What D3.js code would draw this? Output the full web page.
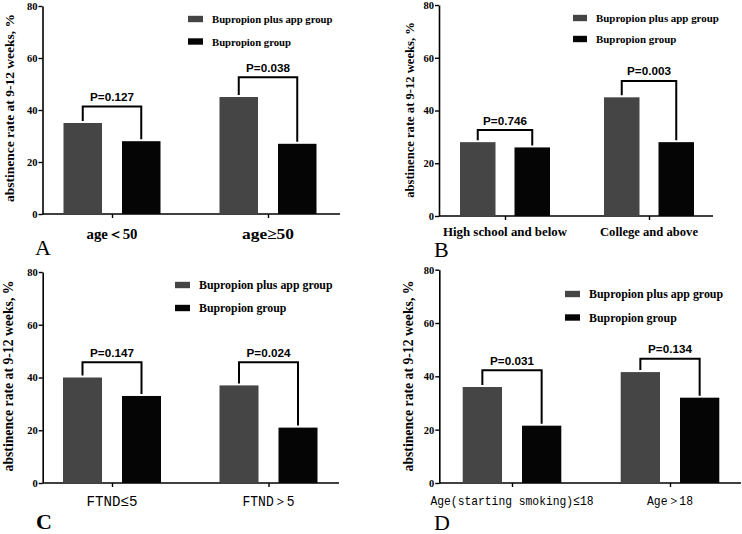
<!DOCTYPE html>
<html>
<head>
<meta charset="utf-8">
<script src="https://cdn.jsdelivr.net/npm/d3@7"></script>
<style>
  html, body { margin: 0; padding: 0; background: #fff; }
  svg { display: block; }
</style>
</head>
<body>
<svg id="chart" width="742" height="534"></svg>
<script>
// ---------------- data ----------------
const groups = ["Bupropion plus app group", "Bupropion group"];
const yTicks = [0, 20, 40, 60, 80];
const yTitle = "abstinence rate at 9-12 weeks, %";

const catsA = ["age＜50", "age≥50"];
const appA = [35, 45];
const bupA = [28, 27];
const pA = ["P=0.127", "P=0.038"];
const brA = [41.3, 52.6];

const catsB = ["High school and below", "College and above"];
const appB = [28, 45];
const bupB = [26, 28];
const pB = ["P=0.746", "P=0.003"];
const brB = [32.6, 51.2];

const catsC = ["FTND≤5", "FTND＞5"];
const appC = [40, 37];
const bupC = [33, 21];
const pC = ["P=0.147", "P=0.024"];
const brC = [45.8, 45.8];

const catsD = ["Age(starting smoking)≤18", "Age＞18"];
const appD = [36, 41.6];
const bupD = [21.5, 32];
const pD = ["P=0.031", "P=0.134"];
const brD = [42.3, 46.6];

const letters = ["A", "B", "C", "D"];

// ---------------- layout ----------------
const colors = ["#454545", "#050505"];
const serif = "'Liberation Serif', 'Times New Roman', serif";
const sans = "'Liberation Sans', Arial, sans-serif";
const mono = "'Liberation Mono', 'Courier New', monospace";

const layouts = [
  { x0: 42.5, x1: 340, y0: 214, y80: 6, c: [112, 268], bw: 38.5, hg: 10,
    leg: { x: 188, y: [19, 41.5], fs: 10.7, sw: 15 },
    yt: { x: 9, y: 108, fs: 13.5 },
    xl: { y: 239, fs: 15, font: serif, weight: "bold", w: [51, 52] },
    letter: { x: 35, y: 255, weight: "normal" } },
  { x0: 439, x1: 713, y0: 216, y80: 5, c: [505, 649], bw: 35.5, hg: 9.5,
    leg: { x: 573, y: [18, 39], fs: 10.9, sw: 14 },
    yt: { x: 410, y: 110, fs: 12.6 },
    xl: { y: 236, fs: 13, font: serif, weight: "bold", w: [124, 98] },
    letter: { x: 434, y: 257, weight: "normal" } },
  { x0: 42.7, x1: 339, y0: 483, y80: 272, c: [112, 268.5], bw: 39, hg: 10,
    leg: { x: 175, y: [285, 308], fs: 11.85, sw: 15 },
    yt: { x: 8, y: 376, fs: 13.7 },
    xl: { y: 506, fs: 15, font: mono, weight: "normal", w: [51, 52] },
    letter: { x: 36, y: 529, weight: "bold" } },
  { x0: 439.3, x1: 741, y0: 483, y80: 269.7, c: [512, 670], bw: 39.3, hg: 10,
    leg: { x: 565, y: [294, 317.5], fs: 11.9, sw: 15 },
    yt: { x: 408, y: 376, fs: 13.7 },
    xl: { y: 505, fs: 13.5, font: mono, weight: "normal", w: [163, 46] },
    letter: { x: 434, y: 530, weight: "normal" } }
];

const panels = [
  { cats: catsA, app: appA, bup: bupA, p: pA, br: brA },
  { cats: catsB, app: appB, bup: bupB, p: pB, br: brB },
  { cats: catsC, app: appC, bup: bupC, p: pC, br: brC },
  { cats: catsD, app: appD, bup: bupD, p: pD, br: brD }
];

const svg = d3.select("#chart");

panels.forEach((P, i) => {
  const L = layouts[i];
  const g = svg.append("g");
  const y = d3.scaleLinear().domain([0, 80]).range([L.y0, L.y80]);
  const x = d3.scalePoint().domain(P.cats).range(L.c);

  // y axis
  const ya = g.append("g").attr("transform", `translate(${L.x0},0)`)
    .call(d3.axisLeft(y).tickValues(yTicks).tickSize(4).tickSizeOuter(0).tickPadding(1));
  ya.select(".domain").attr("stroke", "#000").attr("stroke-width", 1.6);
  ya.selectAll(".tick line").attr("stroke", "#000").attr("stroke-width", 1.4);
  ya.selectAll(".tick text").attr("font-family", serif).attr("font-weight", "bold")
    .attr("font-size", 10.5).attr("fill", "#000");

  // x axis
  const xa = g.append("g").attr("transform", `translate(0,${L.y0})`)
    .call(d3.axisBottom(x).tickSize(4).tickSizeOuter(0).tickFormat(""));
  xa.select(".domain").remove();
  xa.selectAll(".tick line").attr("stroke", "#000").attr("stroke-width", 1.4);
  g.append("line").attr("x1", L.x0).attr("x2", L.x1).attr("y1", L.y0).attr("y2", L.y0)
    .attr("stroke", "#000").attr("stroke-width", 1.6);

  // x labels
  g.selectAll(".xl").data(P.cats).enter().append("text")
    .attr("x", d => x(d)).attr("y", L.xl.y)
    .attr("text-anchor", "middle")
    .attr("font-family", L.xl.font).attr("font-weight", L.xl.weight)
    .attr("font-size", L.xl.fs).attr("fill", "#000")
    .attr("textLength", (d, j) => L.xl.w[j]).attr("lengthAdjust", "spacingAndGlyphs")
    .text(d => d);

  // bars
  const series = [P.app, P.bup];
  series.forEach((vals, s) => {
    g.selectAll(".bar" + s).data(P.cats).enter().append("rect")
      .attr("x", d => s === 0 ? x(d) - L.hg - L.bw : x(d) + L.hg)
      .attr("width", L.bw)
      .attr("y", (d, j) => y(vals[j]))
      .attr("height", (d, j) => y(0) - y(vals[j]))
      .attr("fill", colors[s]);
  });

  // brackets
  P.cats.forEach((c, j) => {
    const xl = x(c) - L.hg - L.bw / 2;
    const xr = x(c) + L.hg + L.bw / 2;
    const yb = y(P.br[j]);
    g.append("path")
      .attr("d", `M${xl},${y(P.app[j]) - 2}V${yb}H${xr}V${y(P.bup[j]) - 2}`)
      .attr("fill", "none").attr("stroke", "#000").attr("stroke-width", 2);
    g.append("text")
      .attr("x", (xl + xr) / 2).attr("y", yb - 5.5)
      .attr("text-anchor", "middle")
      .attr("font-family", sans).attr("font-weight", "bold").attr("font-size", 11.7)
      .attr("fill", "#000").text(P.p[j]);
  });

  // legend
  groups.forEach((name, s) => {
    g.append("rect").attr("x", L.leg.x).attr("y", L.leg.y[s] - 3.2)
      .attr("width", L.leg.sw).attr("height", 6.4).attr("fill", colors[s]);
    g.append("text").attr("x", L.leg.x + L.leg.sw + 9).attr("y", L.leg.y[s])
      .attr("dominant-baseline", "central")
      .attr("font-family", serif).attr("font-weight", "bold").attr("font-size", L.leg.fs)
      .attr("fill", "#000").text(name);
  });

  // y title
  g.append("text")
    .attr("transform", `translate(${L.yt.x},${L.yt.y}) rotate(-90)`)
    .attr("text-anchor", "middle").attr("dominant-baseline", "central")
    .attr("font-family", serif).attr("font-weight", "bold").attr("font-size", L.yt.fs)
    .attr("fill", "#000").text(yTitle);

  // panel letter
  g.append("text").attr("x", L.letter.x).attr("y", L.letter.y)
    .attr("font-family", serif).attr("font-weight", L.letter.weight).attr("font-size", 22)
    .attr("fill", "#000").text(letters[i]);
});
</script>
</body>
</html>
